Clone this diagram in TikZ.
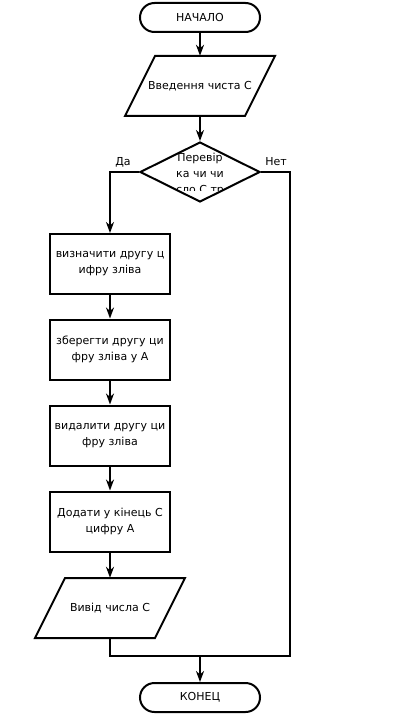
\documentclass[tikz,border=0pt]{standalone}
\usepackage{fontspec}
\setmainfont{DejaVu Sans}
\usetikzlibrary{shapes.geometric,arrows.meta,calc}
\begin{document}
\begin{tikzpicture}[x=1pt,y=-1pt,
  font=\fontsize{11}{16}\selectfont,
  sh/.style={draw=black,line width=2pt,line join=miter},
  term/.style={sh,rounded corners=14.5pt,minimum width=120pt,minimum height=29pt,inner sep=0pt},
  procbox/.style={sh,minimum width=120pt,minimum height=60pt,inner sep=0pt,align=center},
  iobox/.style={minimum width=120pt,minimum height=60pt,inner sep=0pt,align=center},
  decbox/.style={sh,diamond,minimum width=120pt,minimum height=60pt,inner sep=0pt},
  ln/.style={line width=2pt},
  arr/.style={ln,-{Stealth[length=11pt,width=8pt,inset=3.5pt]}},
  lbl/.style={inner sep=0pt}
]
\useasboundingbox (0,0) rectangle (400,714);

\node[term] (start) at (200,17.5) {НАЧАЛО};
\node[iobox] (in) at (200,86) {Введення чиста С};
\draw[sh] ($(in)+(-45,-30)$) -- ($(in)+(75,-30)$) -- ($(in)+(45,30)$) -- ($(in)+(-75,30)$) -- cycle;
\node[decbox] (dec) at (200,172) {};
\begin{scope}
  \clip (168,153) rectangle (232,190);
  \node[lbl,align=center] (dectext) at (200,174.5) {Перевір\\ка чи чи\\сло С тр};
\end{scope}
\node[procbox] (b1) at (110,264) {визначити другу ц\\ифру зліва};
\node[procbox] (b2) at (110,349.5) {зберегти другу ци\\фру зліва у А};
\node[procbox] (b3) at (110,435.5) {видалити другу ци\\фру зліва};
\node[procbox] (b4) at (110,521.5) {Додати у кінець С\\цифру А};
\node[iobox] (out) at (110,608) {Вивід числа С};
\draw[sh] ($(out)+(-45,-30)$) -- ($(out)+(75,-30)$) -- ($(out)+(45,30)$) -- ($(out)+(-75,30)$) -- cycle;
\node[term] (end) at (200,697.5) {КОНЕЦ};

\node[lbl] (yes) at (123,162) {Да};
\node[lbl] (no) at (276,162) {Нет};

\coordinate (m) at (200,656);
\coordinate (r) at (290,656);

\draw[arr] (start.south) -- (in.north);
\draw[arr] (in.south) -- (dec.north);
\draw[arr] (dec.west) -| (b1.north);
\draw[arr] (b1.south) -- (b2.north);
\draw[arr] (b2.south) -- (b3.north);
\draw[arr] (b3.south) -- (b4.north);
\draw[arr] (b4.south) -- (out.north);
\draw[ln] (dec.east) -| (r) -- (m);
\draw[ln] (out.south) |- (m);
\draw[arr] (m) -- (end.north);
\end{tikzpicture}
\end{document}
